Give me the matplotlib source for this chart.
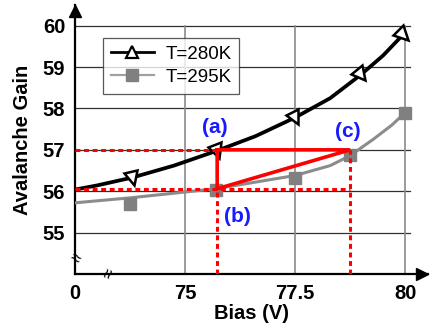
import matplotlib
matplotlib.use("Agg")
import matplotlib.pyplot as plt
from matplotlib.markers import MarkerStyle
from matplotlib.transforms import Affine2D
from matplotlib.lines import Line2D
import numpy as np

plt.rcParams['font.family'] = ['Liberation Sans', 'DejaVu Sans']

# ---- data ----
# T=280K curve and markers
curve280_bias = [72.5, 73.0, 73.8, 74.75, 75.73, 76.6, 77.5, 78.3, 79.0, 79.5, 79.95]
curve280_gain = [56.04, 56.14, 56.33, 56.62, 56.98, 57.33, 57.78, 58.25, 58.82, 59.28, 59.78]
mark280_bias = [73.8, 75.73, 77.5, 79.0, 79.95]
mark280_gain = [56.33, 56.98, 57.78, 58.82, 59.78]

# T=295K curve and markers
curve295_bias = [72.5, 73.75, 75.7, 77.5, 78.3, 78.75, 79.27, 79.7, 80.0]
curve295_gain = [55.72, 55.84, 56.06, 56.38, 56.62, 56.86, 57.25, 57.6, 57.9]
mark295_bias = [73.75, 75.7, 77.5, 78.75, 80.0]
mark295_gain = [55.7, 56.03, 56.33, 56.88, 57.9]

# marked points (a), (b), (c)
pt_labels = ['(a)', '(b)', '(c)']
pt_bias = [75.73, 75.73, 78.75]
pt_gain = [57.0, 56.06, 57.0]
# label anchor positions
lab_bias = [75.68, 76.2, 78.7]
lab_gain = [57.55, 55.39, 57.44]

xtick_vals = [72.5, 75, 77.5, 80]
xtick_labels = ['0', '75', '77.5', '80']
ytick_vals = [55, 56, 57, 58, 59, 60]
legend_labels = ['T=280K', 'T=295K']

# ---- figure ----
W, H = 430, 332
fig = plt.figure(figsize=(W / 100, H / 100), dpi=100)
ax = fig.add_axes([75 / W, 1 - 274 / H, (428 - 75) / W, (274 - 5) / H])
ax.set_xlim(72.5, 80.52)
ax.set_ylim(54.0, 60.5)

for s in ['top', 'right']:
    ax.spines[s].set_visible(False)
for s in ['left', 'bottom']:
    ax.spines[s].set_linewidth(1.6)
    ax.spines[s].set_color('black')

ax.set_xticks(xtick_vals)
ax.set_xticklabels(xtick_labels, fontsize=14.5, fontweight='bold')
ax.set_yticks(ytick_vals)
ax.set_yticklabels([str(v) for v in ytick_vals], fontsize=14.5, fontweight='bold')
ax.tick_params(length=0, pad=7)
ax.tick_params(axis='y', pad=7)

ax.set_xlabel('Bias (V)', fontsize=14.5, fontweight='bold', labelpad=1)
ax.set_ylabel('Avalanche Gain', fontsize=14.5, fontweight='bold', labelpad=8)

# grid
grid_right = 80.12
for y in ytick_vals:
    ax.plot([72.5, grid_right], [y, y], color='#303030', lw=0.9, zorder=1)
for x in xtick_vals[1:]:
    ax.plot([x, x], [54.0, ytick_vals[-1]], color='#8a8a8a', lw=1.2, zorder=1)

# axis arrows
ax.plot([72.5], [60.5 - 6 / 41.4], marker='^', color='black', markersize=8,
        clip_on=False, zorder=6, linestyle='none')
ax.plot([80.52 - 6 / 44], [54.0], marker='>', color='black', markersize=8,
        clip_on=False, zorder=6, linestyle='none')

# axis break marks
ax.text(72.5, 54.37, '≈', ha='center', va='center', fontsize=13, rotation=-30,
        zorder=7, clip_on=False)
ax.text(73.28, 54.0, '≈', ha='center', va='center', fontsize=13, rotation=70,
        zorder=7, clip_on=False)

# curves
gray = '#8c8c8c'
ax.plot(curve295_bias, curve295_gain, color=gray, lw=2.2, zorder=3)
ax.plot(mark295_bias, mark295_gain, linestyle='none', marker='s', color='#808080',
        markersize=9, zorder=3.5)
ax.plot(curve280_bias, curve280_gain, color='black', lw=2.7, zorder=4)

# rotated triangle markers along black curve
fig.canvas.draw()
cb = np.array(curve280_bias)
cg = np.array(curve280_gain)
disp = ax.transData.transform(np.column_stack([cb, cg]))
for xb, yg in zip(mark280_bias, mark280_gain):
    i = int(np.argmin(np.abs(cb - xb)))
    i0, i1 = max(i - 1, 0), min(i + 1, len(cb) - 1)
    d = disp[i1] - disp[i0]
    ang = np.degrees(np.arctan2(d[1], d[0]))
    m = MarkerStyle('v', transform=Affine2D().rotate_deg(ang))
    ax.plot([xb], [yg], linestyle='none', marker=m, markersize=10,
            markerfacecolor='white', markeredgecolor='black', markeredgewidth=1.8,
            zorder=5, clip_on=False)

# red construction lines
red = '#ff0000'
dash = (0, (1.6, 1.2))
ax.plot([72.5, pt_bias[0]], [pt_gain[0], pt_gain[0]], color=red, lw=2.2,
        linestyle=dash, zorder=6)
ax.plot([72.5, pt_bias[2]], [pt_gain[1], pt_gain[1]], color=red, lw=2.2,
        linestyle=dash, zorder=6)
ax.plot([pt_bias[1], pt_bias[1]], [54.0, pt_gain[1]], color=red, lw=2.2,
        linestyle=dash, zorder=6)
ax.plot([pt_bias[2], pt_bias[2]], [54.0, pt_gain[2]], color=red, lw=2.2,
        linestyle=dash, zorder=6)
ax.plot([pt_bias[0], pt_bias[2], pt_bias[1], pt_bias[0]],
        [pt_gain[0], pt_gain[2], pt_gain[1], pt_gain[0]],
        color=red, lw=2.6, zorder=6.5, solid_joinstyle='miter')

for lab, xb, yg in zip(pt_labels, lab_bias, lab_gain):
    ax.text(xb, yg, lab, color='#1a1aff', fontsize=15, fontweight='bold',
            ha='center', va='center', zorder=8)

# legend
h1 = Line2D([], [], color='black', lw=2.0, marker='^', markersize=9,
            markerfacecolor='white', markeredgecolor='black', markeredgewidth=1.6)
h2 = Line2D([], [], color='#a0a0a0', lw=1.6, marker='s', markersize=8,
            markerfacecolor='#808080', markeredgecolor='#808080')
leg = ax.legend([h1, h2], legend_labels, loc='upper left',
                bbox_to_anchor=(103 / W, 1 - 38 / H), bbox_transform=fig.transFigure,
                frameon=True, fancybox=False, fontsize=13.5, handlelength=2.3,
                handletextpad=0.6, borderpad=0.42, labelspacing=0.3,
                borderaxespad=0)
leg.get_frame().set_edgecolor('#303030')
leg.get_frame().set_linewidth(0.9)
leg.set_zorder(9)

fig.savefig('out.png', dpi=100)
